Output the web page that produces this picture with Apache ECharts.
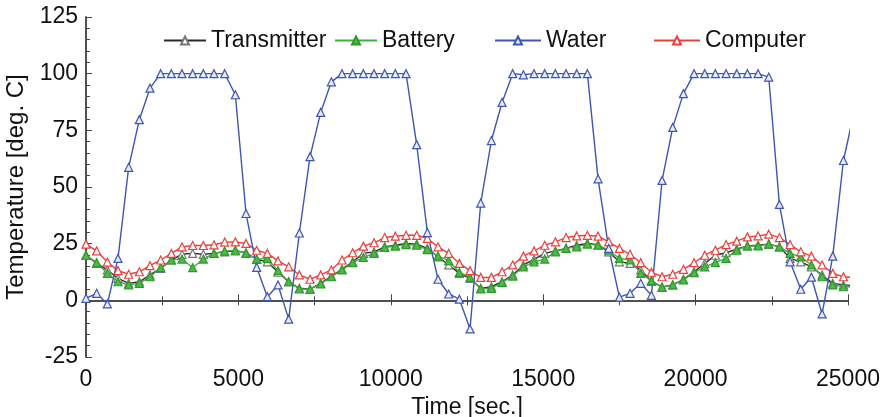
<!DOCTYPE html>
<html>
<head>
<meta charset="utf-8">
<script src="https://cdn.jsdelivr.net/npm/echarts@6/dist/echarts.min.js"></script>
<style>
html,body{margin:0;padding:0;background:#fff;}
#chart{width:891px;height:417px;}
</style>
</head>
<body>
<div id="chart"></div>
<script>
// sample times, sec.
var times = [0,350,700,1050,1400,1750,2100,2450,2800,3150,3500,3850,4200,4550,4900,5250,5600,5950,6300,6650,
    7000,7350,7700,8050,8400,8750,9100,9450,9800,10150,10500,10850,11200,11550,11900,12250,12600,12950,13300,13650,
    14000,14350,14700,15050,15400,15750,16100,16450,16800,17150,17500,17850,18200,18550,18900,19250,19600,19950,20300,20650,
    21000,21350,21700,22050,22400,22750,23100,23450,23800,24150,24500,24850,25200];

var transmitter = [19.9,16.3,13.4,9.7,7.5,8.2,11.2,14.1,17.8,20.3,20.7,20.3,20.7,21.4,21.8,21.0,18.1,17.0,12.4,8.2,
    5.3,4.9,7.5,10.7,13.7,17.0,20.7,21.4,23.6,24.3,25.1,24.8,22.9,19.2,15.6,11.9,9.7,5.3,6.0,8.2,
    11.2,15.6,18.1,20.7,21.8,22.9,24.3,25.1,24.5,21.4,17.0,16.3,13.4,8.4,5.9,6.8,9.3,12.6,16.3,19.9,
    21.0,22.6,24.0,24.3,24.8,23.6,18.5,17.0,14.8,11.2,7.5,6.8,6.5];

var battery = [19.9,16.6,11.9,8.2,6.8,7.5,10.4,14.4,17.8,18.2,14.4,18.2,20.7,21.7,22.1,20.7,18.2,18.5,13.1,8.2,
    5.0,4.9,7.2,10.4,13.4,16.6,18.9,20.7,23.3,23.9,24.6,24.3,22.4,19.5,17.5,12.3,10.1,5.0,5.3,7.9,
    10.7,14.8,17.0,18.2,21.4,22.9,23.6,24.8,24.3,22.1,18.5,17.8,11.9,8.7,5.7,6.8,9.0,12.2,14.8,16.7,
    18.5,22.1,24.0,24.0,24.8,23.6,20.7,19.2,15.6,10.4,6.8,6.0,5.8];

var water = [0.9,3.1,-1.6,18.5,58.7,79.7,93.6,100,100,100,100,100,100,100,90.7,38.3,14.5,1.6,6.8,-8.3,
    29.7,63.4,82.9,96.4,100,100,100,100,100,100,100,68.7,29.9,9.3,2.8,0.5,-12.6,42.9,70.5,87.3,
    100,99.5,100,100,100,100,100,100,53.6,22.9,1.4,3.1,7.5,2.2,52.9,76.3,91.2,100,100,100,
    100,100,100,100,98.5,42.3,17.0,4.9,10.2,-6.0,19.5,61.7,83];

var computer = [24.8,21.8,16.9,13.1,11.5,12.6,15.3,17.8,20.7,23.6,24.2,24.2,24.5,25.7,25.8,25.1,22.1,20.7,17.4,14.8,
    11.2,9.3,11.2,13.4,17.8,21.0,23.9,25.4,27.7,28.3,28.7,28.7,27.3,23.6,20.7,16.3,13.1,10.1,10.1,12.6,
    15.6,19.5,21.8,24.3,25.8,27.7,28.4,28.7,28.3,25.8,22.9,20.3,16.6,12.4,10.4,11.5,13.7,16.6,19.9,22.1,
    24.6,26.1,28.0,28.4,29.2,27.7,24.6,21.4,19.5,15.6,11.9,10.4,10.0];

var yTicks = [-25,0,25,50,75,100,125];

function pairs(ys){
    return ys.map(function(v,i){ return [times[i],v] })
}

var font = 'Liberation Sans, Arial, sans-serif';
var axisColor = '#444';

function makeSeries(name,data,lineColor,symColor,fill){
    return {
        name:name,
        type:'line',
        data:pairs(data),
        symbol:'triangle',
        symbolSize:8,
        showSymbol:true,
        clip:true,
        lineStyle:{color:lineColor,width:1.4},
        itemStyle:{color:fill,borderColor:symColor,borderWidth:1.2},
        emphasis:{disabled:true}
    }
}

function makeLegend(name,left,w){
    return {
        data:[name],
        left:left,
        top:29,
        padding:0,
        itemWidth:w,
        itemHeight:10,
        textStyle:{fontFamily:font,fontSize:23,color:'#111'},
        selectedMode:false
    }
}

var myChart = echarts.init(document.getElementById('chart'));
var option = {
    animation:false,
    backgroundColor:'#fff',
    grid:{left:86,right:43,top:17,bottom:60,containLabel:false,outerBoundsMode:'none'},
    legend:[
        makeLegend('Transmitter',163,42),
        makeLegend('Battery',334,42),
        makeLegend('Water',494,46),
        makeLegend('Computer',653,46)
    ],
    xAxis:[{
        type:'value',
        min:0,
        max:25000,
        interval:5000,
        name:'Time [sec.]',
        nameLocation:'middle',
        nameGap:35,
        nameTextStyle:{fontFamily:font,fontSize:23,color:'#111'},
        axisLine:{lineStyle:{color:axisColor,width:1.5}},
        axisTick:{inside:true,length:6,lineStyle:{color:axisColor}},
        minorTick:{show:true,splitNumber:2,length:4,lineStyle:{color:axisColor}},
        axisLabel:{fontFamily:font,fontSize:23,color:'#111',margin:11,
            formatter:function(v){ return String(v) }},
        splitLine:{show:false}
    },{
        type:'value',
        position:'top',
        min:0,
        max:25000,
        interval:2500,
        axisLine:{lineStyle:{color:axisColor,width:1.5}},
        axisTick:{inside:true,length:5,lineStyle:{color:axisColor}},
        axisLabel:{show:false},
        splitLine:{show:false}
    }],
    yAxis:[{
        type:'value',
        min:yTicks[0],
        max:yTicks[yTicks.length-1],
        interval:25,
        name:'Temperature [deg. C]',
        nameLocation:'middle',
        nameGap:52,
        nameTextStyle:{fontFamily:font,fontSize:24,color:'#111'},
        axisLine:{show:true,lineStyle:{color:axisColor,width:1.5}},
        axisTick:{show:true,inside:true,length:6,lineStyle:{color:axisColor}},
        minorTick:{show:true,splitNumber:5,length:4,lineStyle:{color:axisColor}},
        axisLabel:{fontFamily:font,fontSize:23,color:'#111',margin:8,padding:[7,0,0,0]},
        splitLine:{show:false}
    },{
        type:'value',
        position:'right',
        min:-25,
        max:125,
        interval:25,
        axisLine:{show:true,lineStyle:{color:axisColor,width:1.5}},
        axisTick:{show:false},
        axisLabel:{show:false},
        splitLine:{show:false}
    }],
    series:[
        makeSeries('Transmitter',transmitter,'#2b2b2b','#777','#fff'),
        makeSeries('Battery',battery,'#3db33a','#2f9a2c','#4cbb45'),
        makeSeries('Computer',computer,'#e8403c','#e8403c','#fff'),
        makeSeries('Water',water,'#3e55b2','#3e55b2','#e8ecf8')
    ]
};
myChart.setOption(option);
</script>
</body>
</html>
